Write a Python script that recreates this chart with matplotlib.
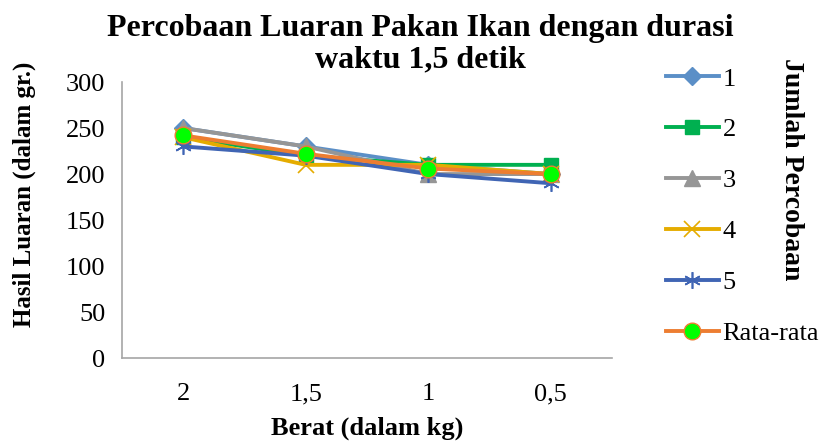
import matplotlib
matplotlib.use("Agg")
import matplotlib.pyplot as plt

plt.rcParams['font.family'] = ['Liberation Serif', 'DejaVu Serif']

categories = ["2", "1,5", "1", "0,5"]
s1 = [250, 230, 210, 200]
s2 = [240, 220, 210, 210]
s3 = [250, 230, 200, 200]
s4 = [240, 210, 210, 200]
s5 = [230, 220, 200, 190]
avg = [242, 222, 206, 200]
series_names = ["1", "2", "3", "4", "5", "Rata-rata"]
yticks = [0, 50, 100, 150, 200, 250, 300]
title_lines = ["Percobaan Luaran Pakan Ikan dengan durasi", "waktu 1,5 detik"]

fig = plt.figure(figsize=(8.22, 4.41), dpi=100)
ax = fig.add_axes([0.1484, 0.188, 0.596, 0.626])

x = list(range(len(categories)))
lw = 2.8
styles = [
    (s1, dict(color="#5B8FC7", marker="D", markersize=9, markerfacecolor="#5B8FC7", markeredgecolor="#5B8FC7")),
    (s2, dict(color="#00B050", marker="s", markersize=10, markerfacecolor="#00B050", markeredgecolor="#00B050")),
    (s3, dict(color="#969696", marker="^", markersize=11, markerfacecolor="#969696", markeredgecolor="#969696")),
    (s4, dict(color="#E5AC00", marker="x", markersize=11, markeredgewidth=1.2, markeredgecolor="#E5AC00")),
    (s5, dict(color="#4065B4", marker=(6, 2, 0), markersize=12, markeredgewidth=1.2, markeredgecolor="#4065B4")),
    (avg, dict(color="#ED7D31", marker="o", markersize=12, markerfacecolor="#00FF00", markeredgecolor="#ED7D31", markeredgewidth=1)),
]
handles = []
for (vals, st), name in zip(styles, series_names):
    h, = ax.plot(x, vals, linewidth=lw, label=name, **st)
    handles.append(h)

ax.set_xlim(-0.5, len(categories) - 0.5)
ax.set_ylim(0, 300)
ax.set_yticks(yticks)
ax.set_xticks(x)
ax.set_xticklabels(categories)
ax.tick_params(axis='both', length=0, labelsize=19, colors="black")
ax.tick_params(axis='x', pad=18)
ax.tick_params(axis='y', pad=12)
for sp in ["top", "right"]:
    ax.spines[sp].set_visible(False)
for sp in ["left", "bottom"]:
    ax.spines[sp].set_color("#A6A6A6")
    ax.spines[sp].set_linewidth(1.2)

ax.set_xlabel("Berat (dalam kg)", fontsize=19, fontweight="bold", labelpad=8)
fig.text(0.030, 0.56, "Hasil Luaran (dalam gr.)", rotation=90, ha="center", va="center",
         fontsize=18, fontweight="bold")

fig.text(0.511, 0.9365, title_lines[0], ha="center", va="center", fontsize=23, fontweight="bold")
fig.text(0.511, 0.864, title_lines[1], ha="center", va="center", fontsize=23, fontweight="bold")

leg = fig.legend(handles=handles, loc="upper left", bbox_to_anchor=(0.810, 0.848),
                 frameon=False, fontsize=19, handlelength=2.0, handletextpad=0.15,
                 labelspacing=1.04, borderaxespad=0, borderpad=0)
fig.text(0.963, 0.616, "Jumlah Percobaan", rotation=-90, ha="center", va="center",
         fontsize=20, fontweight="bold")

fig.savefig("out.png", dpi=100)
